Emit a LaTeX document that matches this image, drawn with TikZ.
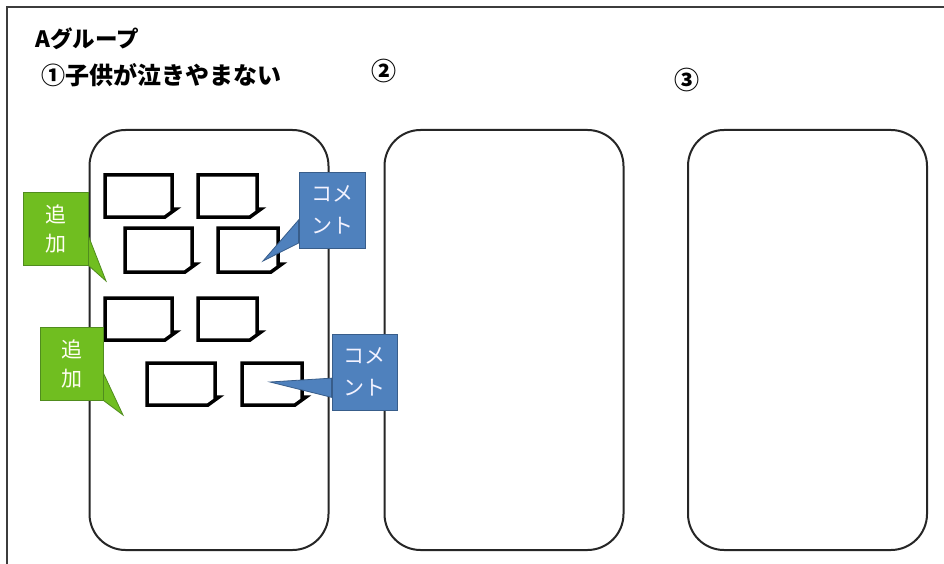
\documentclass[tikz,border=0pt]{standalone}
\usepackage{fontspec}
\newfontfamily\jpfont{Noto Sans CJK JP}
\usetikzlibrary{calc}
\definecolor{gfill}{RGB}{112,190,32}
\definecolor{gline}{RGB}{80,140,30}
\definecolor{bfill}{RGB}{79,129,189}
\definecolor{bline}{RGB}{56,93,138}
\definecolor{frameline}{RGB}{60,60,60}
\tikzset{
  frame/.style={draw=frameline,line width=2pt},
  panel/.style={draw=black!85,line width=2pt,rounded corners=36pt,minimum width=239pt,minimum height=420pt,inner sep=0pt},
  notepath/.style={draw=black,line width=3.5pt,line join=miter,fill=white},
  gbox/.style={fill=gfill,draw=gline,line width=0.8pt,inner sep=0pt,align=center,text=white!95!yellow,font=\jpfont\fontsize{21}{29}\selectfont},
  bbox/.style={fill=bfill,draw=bline,line width=0.8pt,inner sep=0pt,align=center,text=white!95!blue,font=\jpfont\fontsize{21}{32}\selectfont},
  gptr/.style={fill=gfill,draw=gline,line width=0.8pt},
  bptr/.style={fill=bfill,draw=bline,line width=0.8pt},
  title/.style={anchor=west,inner sep=0pt,font=\jpfont\bfseries\fontsize{22.5}{22.5}\selectfont},
  num/.style={inner sep=0pt,font=\jpfont\bfseries\fontsize{25}{25}\selectfont}
}
\newcommand\mynote[4]{%
  \draw[notepath] (#1,#2) -- (#3,#2) -- (#3,#4-8) -- (#3+4,#4-8) -- (#3-7,#4) -- (#1,#4) -- cycle;}
\begin{document}
\begin{tikzpicture}[x=1pt,y=-1pt]
\useasboundingbox (0,0) rectangle (944,564);
\fill[white] (0,0) rectangle (944,564);
\draw[frame] (7,564) -- (7,7) -- (944,7);

\node[title] (grp) at (35,39) {Aグループ};
\node[title,font=\jpfont\bfseries\fontsize{24}{24}\selectfont] (t1) at (41,75) {①子供が泣きやまない};
\node[num] (n2) at (384,71) {②};
\node[num] (n3) at (687,80) {③};

\node[panel] (p1) at (209,340) {};
\node[panel] (p2) at (504,340) {};
\node[panel] (p3) at (807.5,340) {};

\mynote{105}{175}{172}{217}
\mynote{198}{175}{257}{217}
\mynote{125}{228}{192}{272}
\mynote{218}{228}{278}{272}
\mynote{105}{298}{172}{340}
\mynote{198}{298}{257}{340}
\mynote{147}{363}{215}{405}
\mynote{242}{363}{302}{405}

% green callout 1
\coordinate (g1tip) at (106,281);
\node[gbox,minimum width=65pt,minimum height=73pt] (g1) at (55.5,228.5) {追\\加};
\fill[gptr] ($(g1.north east)!0.6!(g1.south east)$) -- (g1tip) -- (g1.south east) -- cycle;
% green callout 2
\coordinate (g2tip) at (123,415);
\node[gbox,minimum width=63pt,minimum height=73pt] (g2) at (71.5,363.5) {追\\加};
\fill[gptr] ($(g2.north east)!0.63!(g2.south east)$) -- (g2tip) -- (g2.south east) -- cycle;
% blue callout 1
\coordinate (b1tip) at (263,261);
\node[bbox,minimum width=66pt,minimum height=76pt] (b1) at (332,210) {コメ\\ント};
\fill[bptr] ($(b1.north west)!0.63!(b1.south west)$) -- (b1tip) -- ($(b1.north west)!0.93!(b1.south west)$) -- cycle;
% blue callout 2
\coordinate (b2tip) at (270,382);
\node[bbox,minimum width=65pt,minimum height=76pt] (b2) at (364.5,372) {コメ\\ント};
\fill[bptr] ($(b2.north west)!0.58!(b2.south west)$) -- (b2tip) -- ($(b2.north west)!0.83!(b2.south west)$) -- cycle;
\end{tikzpicture}
\end{document}
